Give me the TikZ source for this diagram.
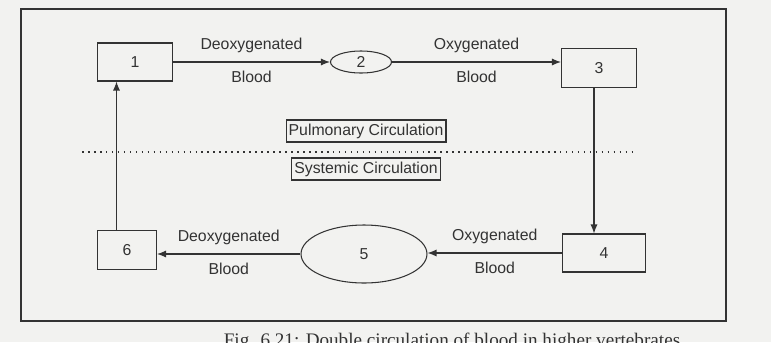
\documentclass[tikz,border=0pt]{standalone}
\usepackage{fontspec}
\setmainfont{Liberation Sans}
\newfontfamily\capfont{Liberation Serif}
\usepackage{xcolor}
\usetikzlibrary{arrows.meta,positioning,shapes.geometric}
\definecolor{paper}{rgb}{0.95,0.95,0.94}
\definecolor{ink}{rgb}{0.2,0.2,0.2}

\begin{document}
\begin{tikzpicture}[x=0.02cm,y=-0.02cm,font=\fontsize{9}{11}\selectfont,color=ink,
   organ/.style={draw,semithick,minimum width=1.5cm,minimum height=0.76cm,inner sep=1pt},
   bed/.style={draw,semithick,ellipse,inner sep=1pt},
   region/.style={draw,semithick,inner sep=1.5pt,minimum height=0.44cm},
   flow/.style={-{Latex[length=1.8mm,width=1.4mm]},semithick}]
  \useasboundingbox[fill=paper] (0,0) rectangle (771,342);
  \draw[line width=1pt] (21,9) rectangle (726,321);
  % pulmonary side
  \node[organ] (n1) at (135,62) {1};
  \node[bed,minimum width=1.22cm,minimum height=0.44cm] (n2) at (361,62) {2};
  \node[organ,minimum height=0.78cm] (n3) at (599,68) {3};
  % systemic side
  \node[organ,minimum width=1.66cm] (n4) at (604,253) {4};
  \node[bed,minimum width=2.52cm,minimum height=1.16cm] (n5) at (364,254) {5};
  \node[organ,minimum width=1.18cm,minimum height=0.78cm] (n6) at (127,250) {6};
  \draw[flow] (n1.east) -- (n2.west)
     node[midway,above=1.5pt] {Deoxygenated} node[midway,below=1.5pt] {Blood};
  \draw[flow] (n2.east) -- (n2.east -| n3.west)
     node[midway,above=1.5pt] {Oxygenated} node[midway,below=1.5pt] {Blood};
  \draw[flow] ([xshift=-0.1cm]n3.south) -- ([xshift=-0.1cm]n3.south |- n4.north);
  \draw[flow] (n4.west) -- (n4.west -| n5.east)
     node[midway,above=1.5pt] {Oxygenated} node[midway,below=1.5pt] {Blood};
  \draw[flow] (n5.west) -- (n5.west -| n6.east)
     node[midway,above=1.5pt] {Deoxygenated} node[midway,below=1.5pt] {Blood};
  \draw[flow] ([xshift=-0.21cm]n6.north) -- ([xshift=-0.21cm]n6.north |- n1.south);
  % divider
  \draw[line width=0.9pt,dash pattern=on 0.9pt off 2.5pt] (82,152) -- (636,152);
  \node[region] (pul) at (366,131) {Pulmonary Circulation};
  \node[region] (sys) at (366,169) {Systemic Circulation};
  \node[anchor=base,font=\capfont\fontsize{10.9}{12}\selectfont] (cap) at (452,346)
       {Fig. 6.21: Double circulation of blood in higher vertebrates};
\end{tikzpicture}
\end{document}
